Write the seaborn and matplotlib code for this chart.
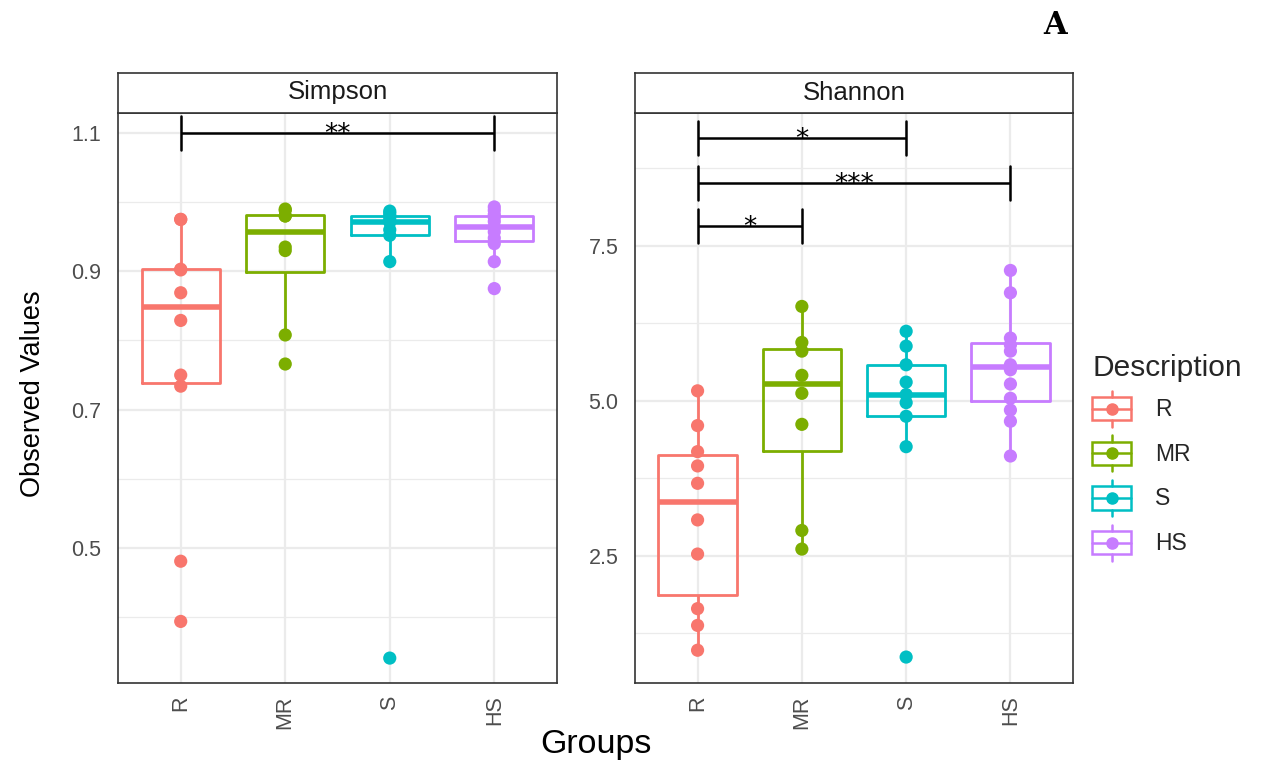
import numpy as np
import pandas as pd
import seaborn as sns
import matplotlib
matplotlib.use("Agg")
import matplotlib.pyplot as plt
from matplotlib.lines import Line2D
from matplotlib.patches import Rectangle
from matplotlib.legend_handler import HandlerBase
from matplotlib.ticker import FixedLocator

# ---- data -----------------------------------------------------------------
groups = ["R", "MR", "S", "HS"]
group_colors = ["#F8766D", "#7CAE00", "#00BFC4", "#C77CFF"]

simpson_R = [0.394, 0.481, 0.734, 0.750, 0.829, 0.869, 0.902, 0.903, 0.975, 0.975]
simpson_MR = [0.766, 0.808, 0.930, 0.935, 0.980, 0.980, 0.988, 0.990]
simpson_S = [0.341, 0.914, 0.952, 0.960, 0.971, 0.975, 0.980, 0.984, 0.987]
simpson_HS = [0.875, 0.914, 0.940, 0.948, 0.957, 0.964, 0.972, 0.978, 0.982, 0.988, 0.993]

shannon_R = [0.98, 1.38, 1.65, 2.53, 3.08, 3.67, 3.95, 4.18, 4.60, 5.16]
shannon_MR = [2.61, 2.91, 4.62, 5.12, 5.41, 5.80, 5.94, 6.52]
shannon_S = [0.87, 4.26, 4.75, 4.97, 5.10, 5.30, 5.58, 5.88, 6.12]
shannon_HS = [4.11, 4.67, 4.85, 5.04, 5.27, 5.50, 5.58, 5.80, 5.90, 6.01, 6.74, 7.10]

indices = ["Simpson", "Shannon"]
simpson_ticks = [0.5, 0.7, 0.9, 1.1]
simpson_minor = [0.4, 0.6, 0.8, 1.0]
shannon_ticks = [2.5, 5.0, 7.5]
shannon_minor = [1.25, 3.75, 6.25, 8.75]
simpson_tick_labels = ["0.5", "0.7", "0.9", "1.1"]
shannon_tick_labels = ["2.5", "5.0", "7.5"]

# pairwise tests: (group a, group b, bar height, label)
simpson_tests = [("R", "HS", 1.10, "**")]
shannon_tests = [("R", "S", 9.23, "*"), ("R", "HS", 8.51, "***"), ("R", "MR", 7.81, "*")]

series = {
    "Simpson": [simpson_R, simpson_MR, simpson_S, simpson_HS],
    "Shannon": [shannon_R, shannon_MR, shannon_S, shannon_HS],
}
rows = []
for idx, lists in series.items():
    for g, vals in zip(groups, lists):
        for v in vals:
            rows.append({"Index": idx, "Description": g, "Value": v})
df = pd.DataFrame(rows)

# ---- style ----------------------------------------------------------------
sns.set_theme(style="white")
plt.rcParams["font.family"] = ["Liberation Sans", "DejaVu Sans"]

W, H = 1267, 765
fig = plt.figure(figsize=(W / 100, H / 100), dpi=100)
fig.patch.set_facecolor("white")

panel_px = {"Simpson": (118, 557), "Shannon": (635, 1073)}
top_px, bottom_px, strip_top_px = 112.5, 683, 72.5
ylims = {"Simpson": (0.305, 1.1295), "Shannon": (0.452, 9.645)}
yticks = {"Simpson": (simpson_ticks, simpson_minor, simpson_tick_labels),
          "Shannon": (shannon_ticks, shannon_minor, shannon_tick_labels)}
tests = {"Simpson": simpson_tests, "Shannon": shannon_tests}
palette = dict(zip(groups, group_colors))
edge = "#333333"

for idx in indices:
    x0, x1 = panel_px[idx]
    ax = fig.add_axes([x0 / W, 1 - bottom_px / H, (x1 - x0) / W, (bottom_px - top_px) / H])
    sub = df[df["Index"] == idx]
    sns.boxplot(data=sub, x="Description", y="Value", hue="Description", order=groups,
                hue_order=groups, palette=palette, fill=False, width=0.75, linewidth=2.0,
                whis=1.5, showfliers=False, legend=False, ax=ax,
                medianprops={"linewidth": 4.0}, capprops={"linewidth": 0},
                zorder=3)
    sns.stripplot(data=sub, x="Description", y="Value", hue="Description", order=groups,
                  hue_order=groups, palette=palette, jitter=False, size=9.5, linewidth=0,
                  legend=False, ax=ax, zorder=4)
    ax.set_xlim(-0.6, 3.6)
    ax.set_ylim(*ylims[idx])
    maj, mnr, lab = yticks[idx]
    ax.yaxis.set_major_locator(FixedLocator(maj))
    ax.set_yticklabels(lab)
    ax.yaxis.set_minor_locator(FixedLocator(mnr))
    ax.set_axisbelow(True)
    ax.grid(which="major", color="#EBEBEB", linewidth=1.6)
    ax.grid(which="minor", axis="y", color="#EBEBEB", linewidth=0.9)
    ax.set_xlabel("")
    ax.set_ylabel("")
    ax.tick_params(axis="both", which="major", direction="out", length=5, width=1.2,
                   color=edge, labelcolor="#4D4D4D", labelsize=15.5)
    ax.tick_params(axis="y", which="major", pad=7)
    ax.tick_params(axis="x", which="major", pad=4, labelrotation=90)
    ax.tick_params(which="minor", length=0)
    for s in ax.spines.values():
        s.set_color(edge)
        s.set_linewidth(1.2)

    # significance brackets
    ylo, yhi = ax.get_ylim()
    half = 0.03 * (yhi - ylo)
    for a, b, yv, lab_txt in tests[idx]:
        xa, xb = groups.index(a), groups.index(b)
        ax.plot([xa, xb], [yv, yv], color="black", lw=1.8, zorder=5, solid_capstyle="butt")
        ax.plot([xa, xa], [yv - half, yv + half], color="black", lw=1.8, zorder=5)
        ax.plot([xb, xb], [yv - half, yv + half], color="black", lw=1.8, zorder=5)
        ax.annotate(lab_txt, xy=((xa + xb) / 2, yv), xytext=(0, -6.5), textcoords="offset points",
                    ha="center", va="baseline", fontsize=19, color="black",
                    family=["DejaVu Sans"], zorder=6)

    # facet strip
    sax = fig.add_axes([x0 / W, 1 - top_px / H, (x1 - x0) / W, (top_px - strip_top_px) / H])
    sax.set_facecolor("white")
    sax.set_xticks([])
    sax.set_yticks([])
    for s in sax.spines.values():
        s.set_color(edge)
        s.set_linewidth(1.2)
    sax.text(0.5, 0.5, idx, ha="center", va="center", fontsize=18.5, color="#1A1A1A",
             transform=sax.transAxes)

# axis titles
fig.text(596 / W, 1 - 745 / H, "Groups", ha="center", va="center", fontsize=24.5, color="black")
fig.text(33 / W, 1 - 394 / H, "Observed Values", ha="center", va="center", rotation=90,
         fontsize=19.5, color="black")
fig.text(1055 / W, 1 - 26 / H, "A", ha="center", va="center", fontsize=22,
         fontweight="bold", family=["DejaVu Serif"], color="black")


# boxplot-shaped legend keys
class BoxKeyHandler(HandlerBase):
    def create_artists(self, legend, orig_handle, xdescent, ydescent, width, height,
                       fontsize, trans):
        c = orig_handle.get_color()
        x0 = -xdescent
        y0 = -ydescent
        bh = 0.64 * height
        by = y0 + (height - bh) / 2
        xm = x0 + width / 2
        ym = y0 + height / 2
        arts = [
            Rectangle((x0, by), width, bh, fill=False, edgecolor=c, lw=1.8, transform=trans),
            Line2D([x0, x0 + width], [ym, ym], color=c, lw=1.8, transform=trans),
            Line2D([xm, xm], [y0, by], color=c, lw=1.8, transform=trans),
            Line2D([xm, xm], [by + bh, y0 + height], color=c, lw=1.8, transform=trans),
            Line2D([xm], [ym], marker="o", markersize=8, color=c, linestyle="none",
                   transform=trans),
        ]
        return arts


handles = [Line2D([], [], color=c) for c in group_colors]
leg = fig.legend(handles, groups, handler_map={Line2D: BoxKeyHandler()}, title="Description",
                 loc="upper left", bbox_to_anchor=(1083 / W, 1 - 345 / H), frameon=False,
                 fontsize=16.5, title_fontsize=21.5, handlelength=1.7, handleheight=2.05,
                 labelspacing=0.37, handletextpad=1.05, alignment="left", borderaxespad=0)

fig.savefig("out.png", dpi=100, facecolor="white")
